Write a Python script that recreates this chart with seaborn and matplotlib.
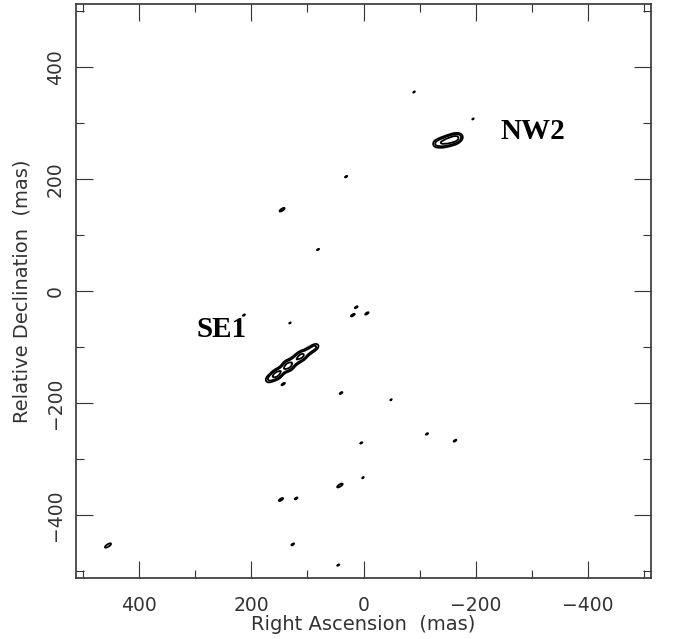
import numpy as np
import matplotlib
matplotlib.use("Agg")
import matplotlib.pyplot as plt
import seaborn as sns

# ---- data: emission components (RA offset, Dec offset in mas), peak (x rms), sizes (mas), PA (deg) ----
comp_ra   = [166, 155, 145, 134, 122, 111, 99, 88,
             -131, -141, -151, -161, -169,
             -90, -195, 31, 145, 81, 213, 131, 13, 19, -6,
             143, 40, -49, 4, -113, -163, 1, 42, 147, 120, 126, 455, 45]
comp_dec  = [-156, -149, -141, -133, -124, -116, -108, -101,
             263, 265, 268, 271, 274,
             355, 307, 204, 145, 74, -43, -57, -29, -43, -40,
             -166, -182, -194, -271, -255, -267, -333, -347, -372, -370, -452, -454, -489]
comp_peak = [2.4, 4.6, 2.6, 5.0, 3.0, 4.4, 2.2, 2.4,
             2.2, 3.4, 4.4, 4.6, 2.6,
             1.06, 1.05, 1.1, 1.5, 1.08, 1.08, 1.05, 1.15, 1.25, 1.2,
             1.2, 1.15, 1.05, 1.08, 1.1, 1.15, 1.06, 1.6, 1.35, 1.15, 1.15, 1.8, 1.08]
comp_major = [6.5, 6.5, 6.5, 6.5, 6.5, 6.5, 6.5, 6.5,
              5.5, 5.5, 5.5, 5.5, 5.5] + [6] * 23
comp_minor = [4.5, 5, 4.5, 5.5, 5, 5, 4.5, 4,
              5, 5.5, 5.5, 5.5, 5] + [2] * 23
comp_pa = [147] * 8 + [160] * 5 + [147] * 23
contour_levels = [1.0, 2.0, 4.0]

x_ticks = [400, 200, 0, -200, -400]
y_ticks = [-400, -200, 0, 200, 400]
x_label = "Right Ascension  (mas)"
y_label = "Relative Declination  (mas)"
annot_text = ["SE1", "NW2"]
annot_ra = [252, -302]
annot_dec = [-68, 284]

# ---- build map ----
grid = np.arange(-512, 512.5, 1.0)
X, Y = np.meshgrid(grid, grid)
Z = np.zeros_like(X)
for ra, dec, pk, mj, mn, pa in zip(comp_ra, comp_dec, comp_peak, comp_major, comp_minor, comp_pa):
    ang = np.deg2rad(pa)
    ux, uy = np.cos(ang), np.sin(ang)
    sel = (np.abs(X - ra) < 50) & (np.abs(Y - dec) < 50)
    dx = X[sel] - ra
    dy = Y[sel] - dec
    a = dx * ux + dy * uy
    b = -dx * uy + dy * ux
    Z[sel] += pk * np.exp(-0.5 * ((a / mj) ** 2 + (b / mn) ** 2))

sns.set_theme(style="ticks")
plt.rcParams['font.family'] = ['DejaVu Sans']

fig = plt.figure(figsize=(6.74, 6.39), dpi=100)
ax = fig.add_axes([76 / 674, 1 - 578 / 639, (651 - 76) / 674, (578 - 4) / 639])

ax.contour(X, Y, Z, levels=contour_levels, colors="black", linewidths=1.3)

ax.set_xlim(512, -512)
ax.set_ylim(-512, 512)
ax.set_xticks(x_ticks)
ax.set_yticks(y_ticks)
ax.set_xticklabels(["\u2212" + str(-t) if t < 0 else str(t) for t in x_ticks])
ax.set_yticklabels(["\u2212" + str(-t) if t < 0 else str(t) for t in y_ticks], rotation=90, va="center")
ax.xaxis.set_minor_locator(matplotlib.ticker.MultipleLocator(100))
ax.yaxis.set_minor_locator(matplotlib.ticker.MultipleLocator(100))
ax.tick_params(which="both", direction="in", top=True, right=True, color="#333333", width=0.8,
               labelcolor="#333333", labelsize=13.5)
ax.tick_params(axis="x", which="major", length=12, pad=13)
ax.tick_params(axis="y", which="major", length=12, pad=8)
ax.tick_params(which="minor", length=6)
for sp in ax.spines.values():
    sp.set_color("#333333")
    sp.set_linewidth(1.2)

ax.set_xlabel(x_label, fontsize=14, color="#333333", labelpad=0)
ax.set_ylabel(y_label, fontsize=14, color="#333333", labelpad=10)

for t, ra, dec in zip(annot_text, annot_ra, annot_dec):
    ax.text(ra, dec, t, fontsize=21, fontweight="bold", family="Liberation Serif",
            ha="center", va="center", color="black")

fig.savefig("out.png", dpi=100, facecolor="white")
